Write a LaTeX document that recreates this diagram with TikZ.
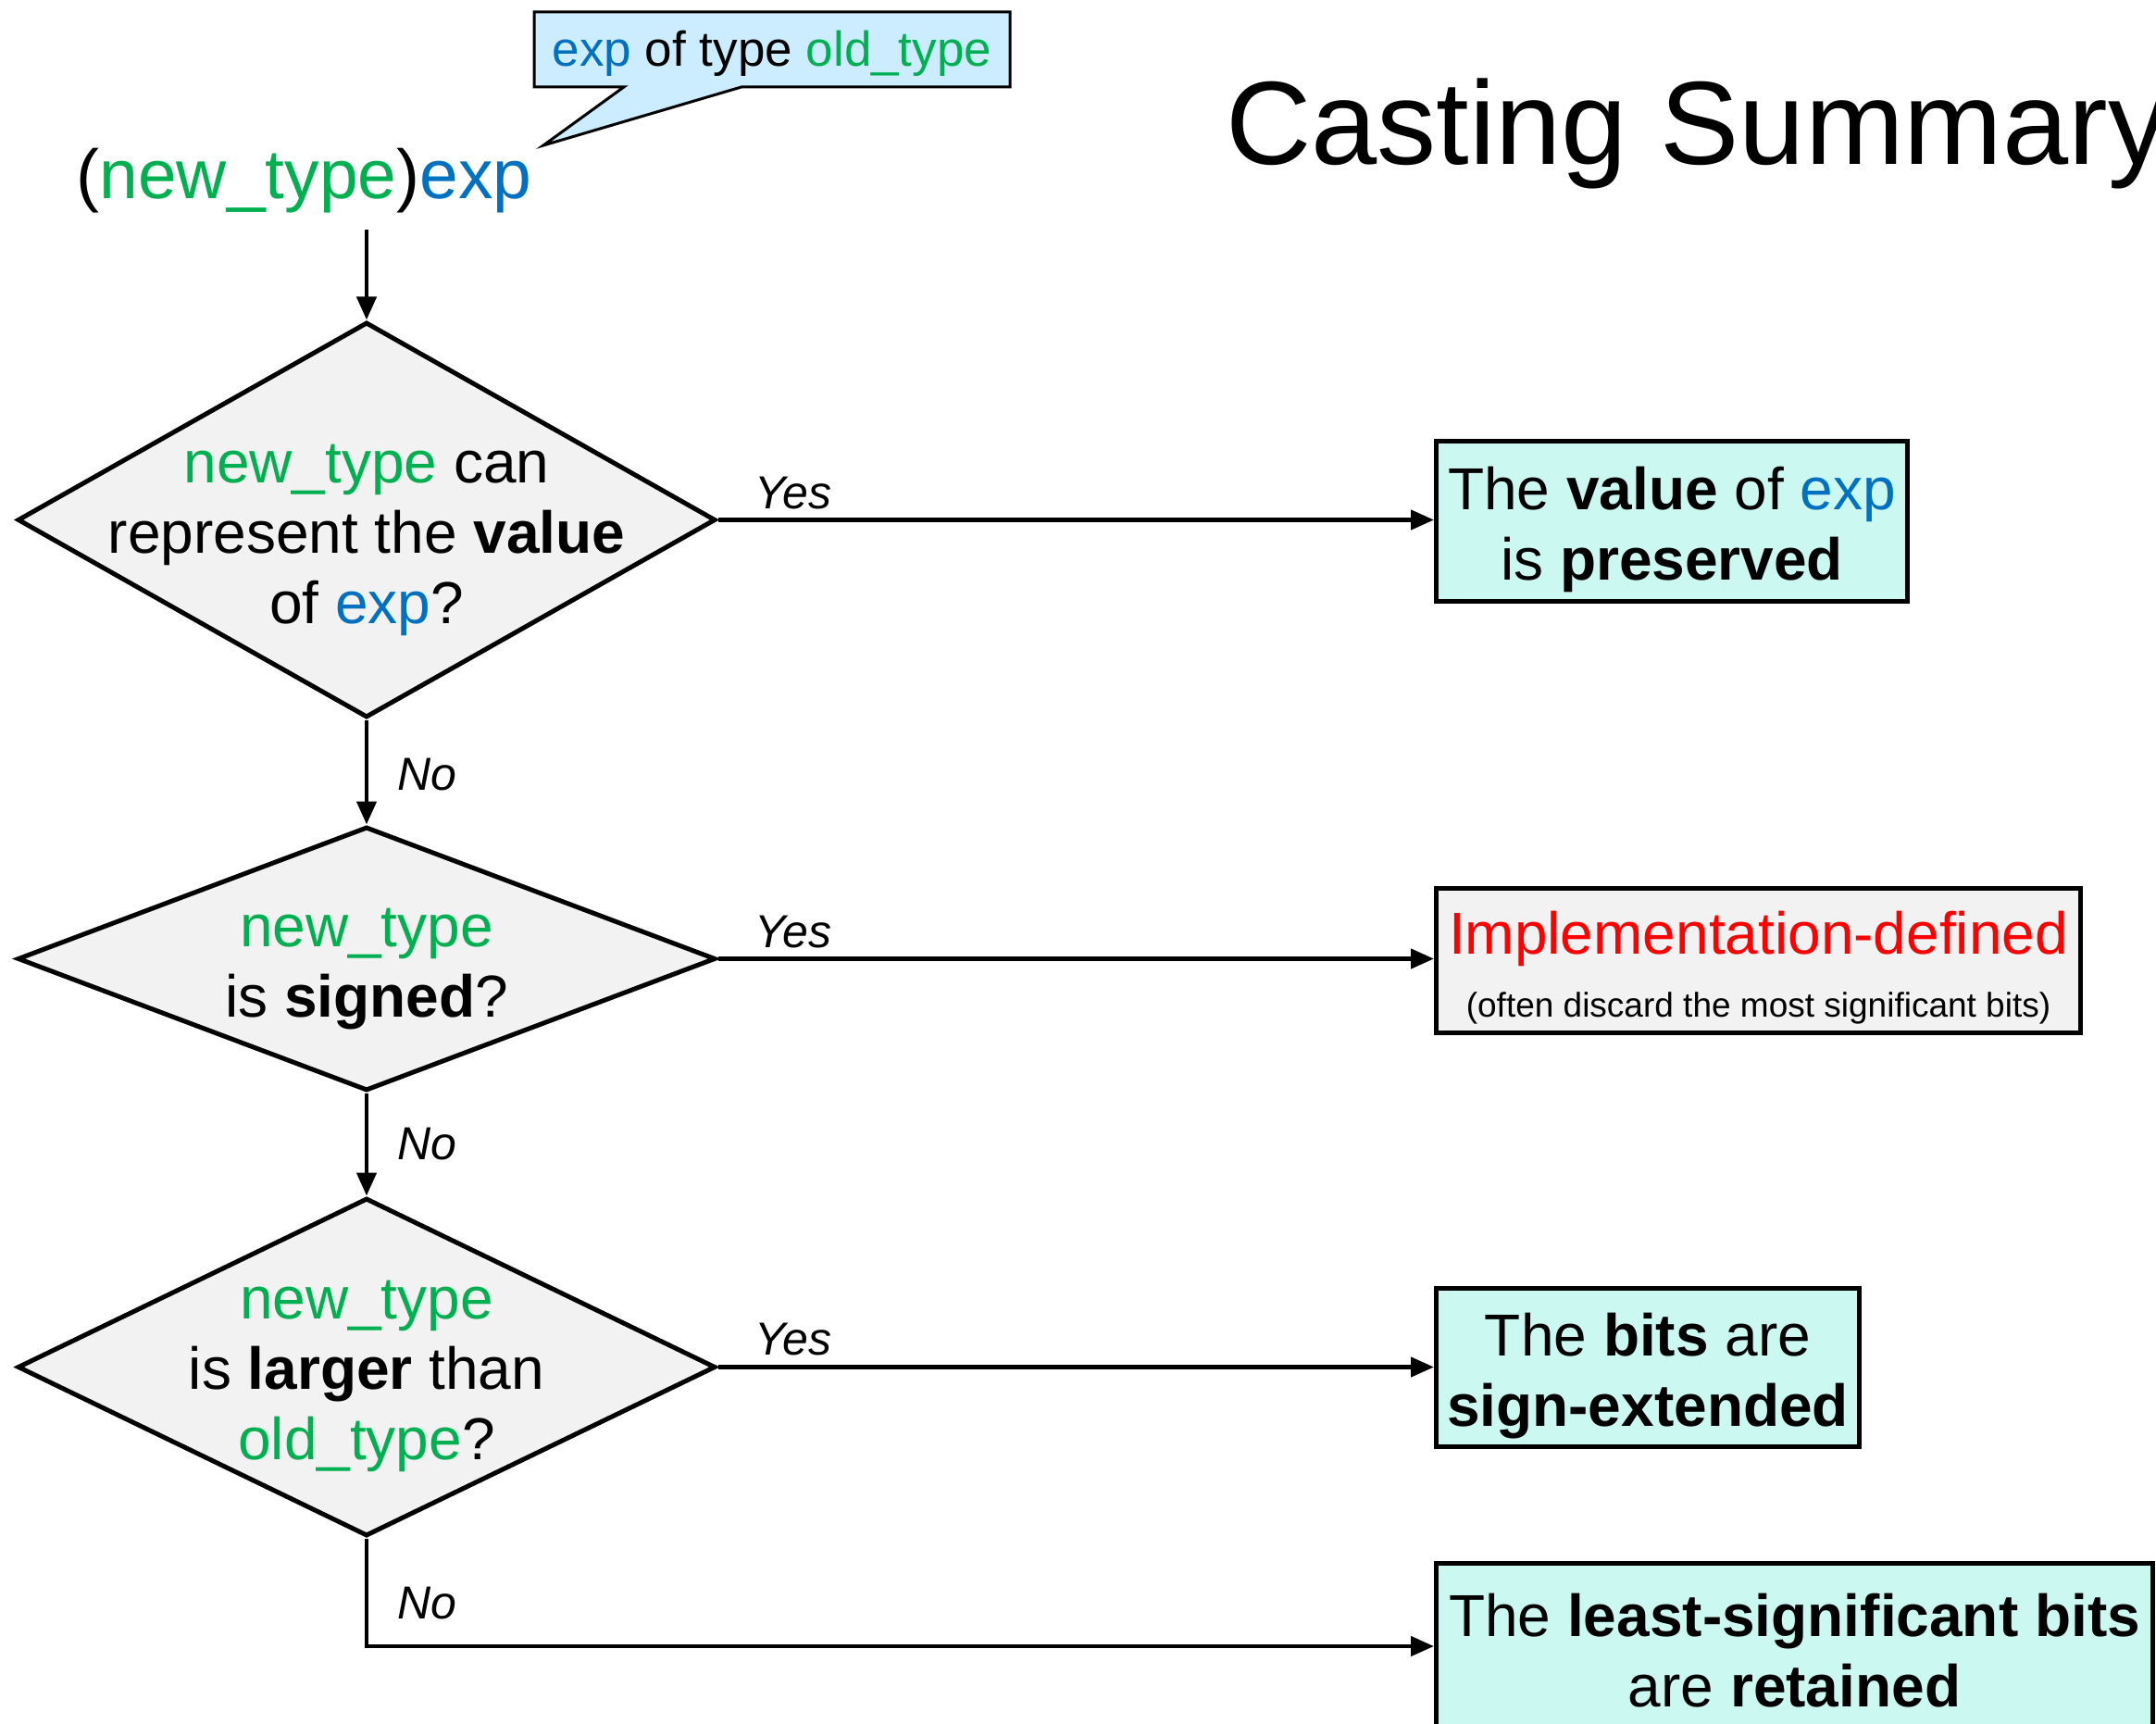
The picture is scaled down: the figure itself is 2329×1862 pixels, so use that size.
\documentclass[tikz,border=0pt]{standalone}
\usepackage{fontspec}
\setmainfont{Liberation Sans}
\usetikzlibrary{shapes.geometric,shapes.callouts,arrows.meta}
\definecolor{tgreen}{HTML}{00B050}
\definecolor{tblue}{HTML}{0070C0}
\definecolor{tred}{HTML}{FF0000}
\definecolor{boxcyan}{RGB}{204,248,242}
\definecolor{dgray}{HTML}{F2F2F2}
\definecolor{calloutblue}{HTML}{CCECFF}
\newcommand{\ntype}{\textcolor{tgreen}{new\_type}}
\newcommand{\otype}{\textcolor{tgreen}{old\_type}}
\newcommand{\expr}{\textcolor{tblue}{exp}}
\newcommand{\lift}[1]{\rule{0pt}{#1pt}}
\begin{document}
\begin{tikzpicture}[x=1pt,y=-1pt,
  dia/.style={diamond, draw, line width=5pt, fill=dgray, inner sep=0pt},
  resbox/.style={draw, line width=5pt, fill=boxcyan, anchor=west, align=center,
    font=\fontsize{64}{76}\selectfont, inner sep=0pt},
  dtext/.style={align=center, font=\fontsize{64}{76}\selectfont, inner sep=0pt},
  lbl/.style={font=\fontsize{50}{60}\selectfont\itshape, inner sep=0pt},
  flow/.style={line width=4.5pt, -{Triangle[length=25pt,width=21pt]}}
]
\useasboundingbox (0,0) rectangle (2329,1862);

% title
\node[anchor=base west, inner sep=0pt, font=\fontsize{128}{150}\selectfont] (title) at (1324,178) {Casting Summary};

% cast expression and callout
\node[inner sep=0pt, font=\fontsize{75}{90}\selectfont] (cast) at (328.5,195) {(\ntype)\expr};
\node[rectangle callout, draw, line width=3pt, fill=calloutblue,
  minimum width=514pt, minimum height=81pt, inner sep=0pt, text height=48pt,
  callout absolute pointer={(587,157)}, callout pointer width=127pt,
  font=\fontsize{53}{64}\selectfont] (note) at (834,53.5) {\expr{} of type \otype};

% diamonds
\node[dia, minimum width=754pt, minimum height=427pt] (d1) at (396,561.5) {};
\node[dtext] (d1t) at (396,583) {\ntype{} can\\represent the \textbf{value}\\of \expr?};
\node[dia, minimum width=754pt, minimum height=285pt] (d2) at (396,1035.5) {};
\node[dtext] (d2t) at (396,1047) {\ntype\\is \textbf{signed}?};
\node[dia, minimum width=754pt, minimum height=365pt] (d3) at (396,1476.5) {};
\node[dtext] (d3t) at (396,1486) {\ntype\\is \textbf{larger} than\\\otype?};

% result boxes
\node[resbox, minimum width=509pt, minimum height=173pt] (b1) at (1549,562.5)
  {\lift{65}The \textbf{value} of \expr\\is \textbf{preserved}};
\node[resbox, fill=dgray, minimum width=696pt, minimum height=156pt] (b2) at (1549,1037)
  {\lift{63}\textcolor{tred}{Implementation-defined}\\[-8pt]{\fontsize{37}{45}\selectfont (often discard the most significant bits)}};
\node[resbox, minimum width=457pt, minimum height=171pt] (b3) at (1549,1476.5)
  {\lift{65}The \textbf{bits} are\\\textbf{sign-extended}};
\node[resbox, minimum width=774pt, minimum height=180pt] (b4) at (1549,1778)
  {\lift{55}The \textbf{least-significant bits}\\are \textbf{retained}};

% connectors
\coordinate (s0) at (396,248);
\draw[flow] (s0) -- (d1.north);
\draw[flow] (d1.east) -- (d1.east -| b1.west);
\draw[flow] (d1.south) -- (d2.north);
\draw[flow] (d2.east) -- (d2.east -| b2.west);
\draw[flow] (d2.south) -- (d3.north);
\draw[flow] (d3.east) -- (d3.east -| b3.west);
\draw[flow] (d3.south) |- (b4.west);

% labels
\node[lbl] (y1) at (857,533) {Yes};
\node[lbl] (y2) at (857,1007) {Yes};
\node[lbl] (y3) at (857,1447) {Yes};
\node[lbl] (n1) at (461,837) {No};
\node[lbl] (n2) at (461,1236) {No};
\node[lbl] (n3) at (461,1732) {No};
\end{tikzpicture}
\end{document}
